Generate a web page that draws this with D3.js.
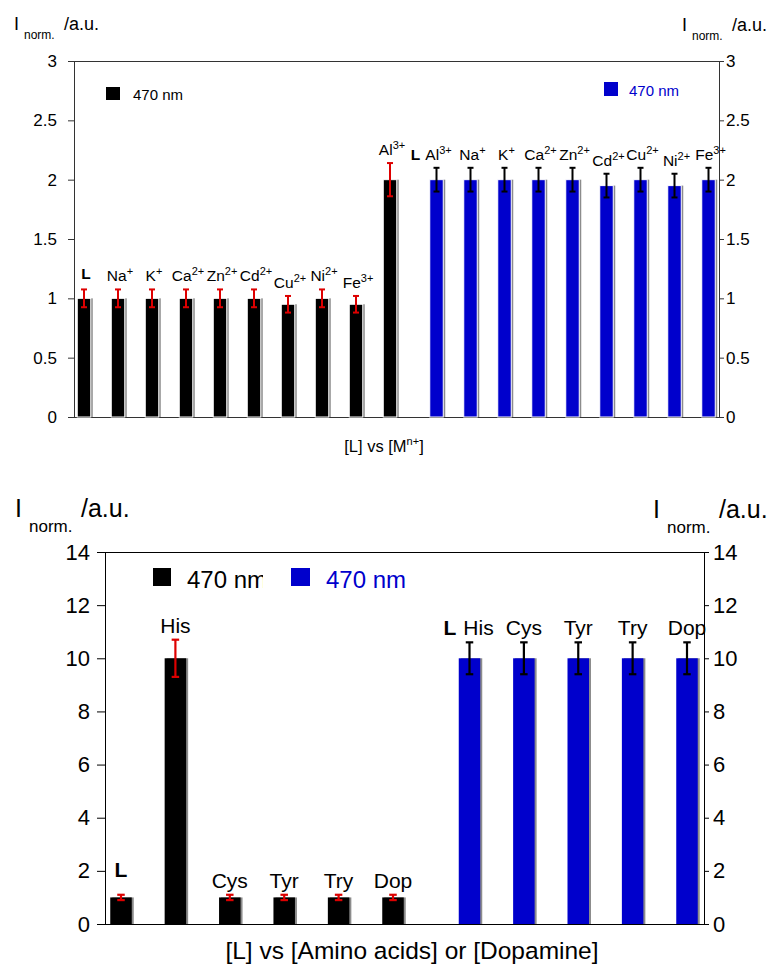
<!DOCTYPE html>
<html>
<head>
<meta charset="utf-8">
<script src="https://cdn.jsdelivr.net/npm/d3@7"></script>
<style>
  body { margin: 0; background: #fff; }
  svg { display: block; font-family: Arial, "Liberation Sans", Helvetica, sans-serif; }
</style>
</head>
<body>
<svg id="chart" width="775" height="967"></svg>
<script>
// top panel: L vs metal ions
var ionNames   = ["L", "Na", "K", "Ca", "Zn", "Cd", "Cu", "Ni", "Fe", "Al"];
var ionCharges = ["", "+", "+", "2+", "2+", "2+", "2+", "2+", "3+", "3+"];
var ionValues  = [1, 1, 1, 1, 1, 1, 0.95, 1, 0.95, 2];
var ionErrors  = [0.075, 0.075, 0.075, 0.075, 0.075, 0.075, 0.07, 0.075, 0.07, 0.14];

var alNames   = ["Al", "Na", "K", "Ca", "Zn", "Cd", "Cu", "Ni", "Fe"];
var alCharges = ["3+", "+", "+", "2+", "2+", "2+", "2+", "2+", "3+"];
var alValues  = [2, 2, 2, 2, 2, 1.95, 2, 1.95, 2];
var alErrors  = [0.1, 0.1, 0.1, 0.1, 0.1, 0.1, 0.1, 0.1, 0.1];

var ionTicks = [0, 0.5, 1, 1.5, 2, 2.5, 3];

// bottom panel: L vs amino acids / dopamine
var aminoNames  = ["L", "His", "Cys", "Tyr", "Try", "Dop"];
var aminoValues = [1, 10, 1, 1, 1, 1];
var aminoErrors = [0.1, 0.7, 0.1, 0.1, 0.1, 0.1];

var hisNames  = ["His", "Cys", "Tyr", "Try", "Dop"];
var hisValues = [10, 10, 10, 10, 10];
var hisErrors = [0.6, 0.6, 0.6, 0.6, 0.6];

var aminoTicks = [0, 2, 4, 6, 8, 10, 12, 14];

var legendText = "470 nm";
var blue = "#0000cc";
var red = "#dd0000";

var svg = d3.select("#chart");

// text with an optional superscript at the end
function writeSup(sel, base, sup, supSize, supDy) {
  sel.each(function() {
    var t = d3.select(this);
    t.text(base);
    if (sup) t.append("tspan").attr("font-size", supSize).attr("dy", supDy).text(sup);
  });
}

function yTitle(g, x, base, p) {
  g.append("text").attr("x", x).attr("y", base).attr("font-size", p.titleSize).text("I");
  g.append("text").attr("x", x + p.subDx).attr("y", base + p.subDy).attr("font-size", p.subSize).text("norm.");
  g.append("text").attr("x", x + p.auDx).attr("y", base).attr("font-size", p.titleSize).text("/a.u.");
}

function drawPanel(p) {
  var g = svg.append("g");

  var y = d3.scaleLinear().domain([0, p.ticks[p.ticks.length - 1]]).range([p.bottom, p.top]);
  var xBlack = d3.scalePoint().domain(p.blackNames).range(p.blackRange);
  var xBlue = d3.scalePoint().domain(p.blueNames).range(p.blueRange);

  var bars = p.blackNames.map(function(n, i) {
    return { x: xBlack(n), name: n, sup: p.blackCharges ? p.blackCharges[i] : "",
             v: p.blackValues[i], e: p.blackErrors[i], fill: "#000", err: red, bold: n === "L", lead: false };
  }).concat(p.blueNames.map(function(n, i) {
    return { x: xBlue(n), name: n, sup: p.blueCharges ? p.blueCharges[i] : "",
             v: p.blueValues[i], e: p.blueErrors[i], fill: blue, err: "#000", bold: false, lead: i === 0 };
  }));

  // frame lines
  g.append("line").attr("x1", p.left).attr("x2", p.right).attr("y1", p.top + 0.5).attr("y2", p.top + 0.5)
    .attr("stroke", p.axisColor);
  g.append("line").attr("x1", p.left).attr("x2", p.right).attr("y1", p.bottom + 0.5).attr("y2", p.bottom + 0.5)
    .attr("stroke", p.axisColor);

  // bars with the grey edge on the right
  var w = p.barWidth;
  g.selectAll(".shadow").data(bars).join("rect")
    .attr("x", function(d) { return d.x - w / 2 + 2; })
    .attr("y", function(d) { return y(d.v); })
    .attr("width", w)
    .attr("height", function(d) { return y(0) - y(d.v); })
    .attr("fill", "#8c8c8c");
  g.selectAll(".bar").data(bars).join("rect")
    .attr("x", function(d) { return d.x - w / 2; })
    .attr("y", function(d) { return y(d.v); })
    .attr("width", w)
    .attr("height", function(d) { return y(0) - y(d.v); })
    .attr("fill", function(d) { return d.fill; })
    .attr("stroke", p.barStroke ? "#fff" : "none")
    .attr("stroke-width", 1);

  // error bars
  var eb = g.selectAll(".err").data(bars).join("g")
    .attr("stroke", function(d) { return d.err; })
    .attr("stroke-width", p.errWidth);
  eb.append("line")
    .attr("x1", function(d) { return d.x; }).attr("x2", function(d) { return d.x; })
    .attr("y1", function(d) { return y(d.v + d.e); }).attr("y2", function(d) { return y(d.v - d.e); });
  [1, -1].forEach(function(s) {
    eb.append("line")
      .attr("x1", function(d) { return d.x - p.cap / 2; }).attr("x2", function(d) { return d.x + p.cap / 2; })
      .attr("y1", function(d) { return y(d.v + s * d.e); }).attr("y2", function(d) { return y(d.v + s * d.e); });
  });

  // labels above bars
  g.selectAll(".lab").data(bars).join("text")
    .attr("x", function(d) { return d.x + (d.lead ? p.leadShift : 0) + p.labelShift; })
    .attr("y", function(d) { return y(d.v + d.e) - (d.bold ? p.boldGap : p.labelGap); })
    .attr("text-anchor", "middle")
    .attr("font-size", p.labelSize)
    .attr("font-weight", function(d) { return d.bold ? "bold" : null; })
    .each(function(d) {
      writeSup(d3.select(this), d.name, d.sup, p.supSize, p.supDy);
      if (d.lead) {
        var bb = this.getBBox();
        g.append("text").attr("x", bb.x - p.leadGap).attr("y", y(d.v + d.e) - p.labelGap)
          .attr("text-anchor", "end").attr("font-size", p.labelSize).attr("font-weight", "bold").text("L");
      }
    });

  // axes
  var fmt = function(v) { return String(v); };
  var ax = g.append("g").attr("transform", "translate(" + p.left + ",0)")
    .call(d3.axisLeft(y).tickValues(p.ticks).tickFormat(fmt).tickSize(p.tickL).tickSizeOuter(0).tickPadding(p.padL));
  var ax2 = g.append("g").attr("transform", "translate(" + p.right + ",0)")
    .call(d3.axisRight(y).tickValues(p.ticks).tickFormat(fmt).tickSize(p.tickR).tickSizeOuter(0).tickPadding(p.padR));
  [ax, ax2].forEach(function(a) {
    a.attr("color", p.axisColor).attr("font-family", null).attr("font-size", p.tickSize);
    a.selectAll("text").attr("fill", "#000");
  });

  // legend
  p.legend.forEach(function(l) {
    g.append("rect").attr("x", l.x).attr("y", l.y).attr("width", l.w).attr("height", l.h).attr("fill", l.color);
    var t = g.append("text").attr("x", l.tx).attr("y", l.ty).attr("font-size", p.legendSize)
      .attr("fill", l.color).text(legendText);
    if (l.clip) {
      g.append("clipPath").attr("id", l.clip.id).append("rect")
        .attr("x", l.tx - 5).attr("y", l.ty - 30).attr("width", l.clip.w).attr("height", 40);
      t.attr("clip-path", "url(#" + l.clip.id + ")");
    }
  });

  // x title
  var xt = g.append("text").attr("x", p.xTitle.x).attr("y", p.xTitle.y)
    .attr("text-anchor", "middle").attr("font-size", p.xTitle.size);
  p.xTitle.parts.forEach(function(part) {
    xt.append("tspan").attr("font-size", part.sup ? p.xTitle.supSize : null)
      .attr("dy", part.dy || null).text(part.t);
  });

  yTitle(g, p.yTitleL[0], p.yTitleL[1], p.yt);
  yTitle(g, p.yTitleR[0], p.yTitleR[1], p.yt);
}

drawPanel({
  top: 61, bottom: 417, left: 74, right: 719,
  ticks: ionTicks, axisColor: "#333", tickSize: 17,
  tickL: 6, padL: 11, tickR: 5, padR: 2,
  blackNames: ionNames, blackCharges: ionCharges, blackValues: ionValues, blackErrors: ionErrors,
  blueNames: alNames, blueCharges: alCharges, blueValues: alValues, blueErrors: alErrors,
  blackRange: [84, 390], blueRange: [436.5, 708.5],
  barWidth: 13.5, barStroke: true, errWidth: 2, cap: 6,
  labelSize: 15.5, supSize: 11, supDy: -6, labelGap: 8, boldGap: 10, leadShift: 0, leadGap: 5, labelShift: 2,
  legendSize: 15,
  legend: [
    { x: 106, y: 87, w: 14, h: 13, color: "#000", tx: 133, ty: 100 },
    { x: 604, y: 82, w: 14, h: 14, color: blue, tx: 629, ty: 96 }
  ],
  xTitle: { x: 384, y: 452, size: 16.5, supSize: 11,
            parts: [{ t: "[L] vs [M" }, { t: "n+", sup: true, dy: -7 }, { t: "]", dy: 7 }] },
  yTitleL: [14, 30], yTitleR: [682, 31],
  yt: { titleSize: 18, subSize: 12, subDx: 10, subDy: 9, auDx: 50 }
});

drawPanel({
  top: 552, bottom: 924, left: 105, right: 704,
  ticks: aminoTicks, axisColor: "#000", tickSize: 22,
  tickL: 8, padL: 7, tickR: 5, padR: 4,
  blackNames: aminoNames, blackValues: aminoValues, blackErrors: aminoErrors,
  blueNames: hisNames, blueValues: hisValues, blueErrors: hisErrors,
  blackRange: [121, 393], blueRange: [469.5, 687],
  barWidth: 21.5, barStroke: false, errWidth: 2.2, cap: 7.5,
  labelSize: 21, supSize: 14, supDy: -8, labelGap: 7, boldGap: 18, leadShift: 9, leadGap: 7, labelShift: 0,
  legendSize: 24,
  legend: [
    { x: 153, y: 568, w: 18, h: 18, color: "#000", tx: 187, ty: 588, clip: { id: "cut", w: 81 } },
    { x: 291, y: 568, w: 19, h: 18, color: blue, tx: 326, ty: 588 }
  ],
  xTitle: { x: 412, y: 959, size: 24.5, supSize: 16,
            parts: [{ t: "[L] vs [Amino acids] or [Dopamine]" }] },
  yTitleL: [15, 517], yTitleR: [653, 518],
  yt: { titleSize: 25, subSize: 17, subDx: 14, subDy: 15, auDx: 66 }
});
</script>
</body>
</html>
